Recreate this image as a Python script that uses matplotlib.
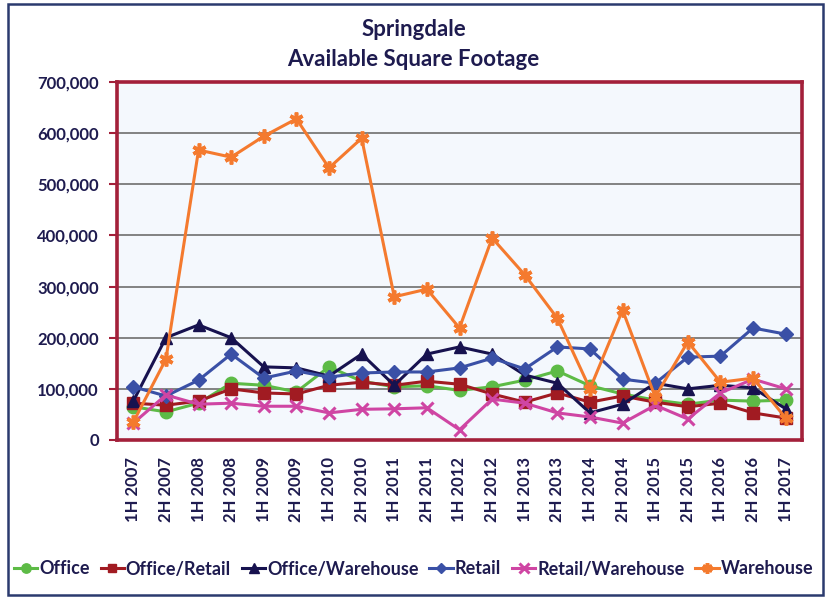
import matplotlib
matplotlib.use("Agg")
import matplotlib.pyplot as plt
from matplotlib.patches import Rectangle
from matplotlib.ticker import FuncFormatter, MultipleLocator

periods = ["1H 2007", "2H 2007", "1H 2008", "2H 2008", "1H 2009", "2H 2009",
           "1H 2010", "2H 2010", "1H 2011", "2H 2011", "1H 2012", "2H 2012",
           "1H 2013", "2H 2013", "1H 2014", "2H 2014", "1H 2015", "2H 2015",
           "1H 2016", "2H 2016", "1H 2017"]

office = [65000, 55000, 72000, 111000, 107000, 94000, 143000, 115000, 104000, 106000,
          97000, 104000, 117000, 135000, 106000, 90000, 78000, 70000, 78000, 76000, 78000]
office_retail = [72000, 68000, 76000, 100000, 92000, 90000, 107000, 113000, 107000, 115000,
                 109000, 90000, 74000, 92000, 74000, 86000, 74000, 65000, 72000, 53000, 43000]
office_warehouse = [76000, 200000, 225000, 200000, 143000, 141000, 125000, 168000, 107000, 168000,
                    182000, 168000, 127000, 111000, 53000, 70000, 111000, 100000, 107000, 102000, 61000]
retail = [104000, 86000, 117000, 168000, 121000, 135000, 123000, 131000, 133000, 133000,
          141000, 160000, 139000, 182000, 178000, 119000, 111000, 162000, 164000, 219000, 207000]
retail_warehouse = [33000, 88000, 70000, 72000, 66000, 66000, 53000, 60000, 61000, 63000,
                    20000, 80000, 72000, 53000, 45000, 33000, 68000, 41000, 92000, 119000, 100000]
warehouse = [35000, 158000, 567000, 553000, 594000, 628000, 532000, 590000, 280000, 295000,
             219000, 395000, 323000, 238000, 100000, 254000, 84000, 192000, 113000, 121000, 43000]

series = [
    ("Office", office, "#5DBB46", "o", 9, 1),
    ("Office/Retail", office_retail, "#A11B22", "s", 8, 1),
    ("Office/Warehouse", office_warehouse, "#17124F", "^", 9, 1),
    ("Retail", retail, "#3A50A6", "D", 7, 1),
    ("Retail/Warehouse", retail_warehouse, "#CF45A3", "x", 9, 2.2),
    ("Warehouse", warehouse, "#F47A2E", (6, 2, 0), 10, 2.6),
]

text_color = "#1E1B4F"
plt.rcParams["font.family"] = ["Lato", "DejaVu Sans"]
plt.rcParams["font.weight"] = "bold"

fig = plt.figure(figsize=(8.27, 5.99), dpi=100)
W, H = 827, 599
ax = fig.add_axes([117 / W, 1 - 440 / H, (802 - 117) / W, (440 - 82) / H])
ax.set_facecolor("#F4F8FD")

x = list(range(len(periods)))
for name, vals, color, marker, ms, mew in series:
    ax.plot(x, vals, color=color, lw=2.2, marker=marker, markersize=ms,
            markeredgewidth=mew, markerfacecolor=color, markeredgecolor=color,
            label=name, zorder=3)

ax.set_xlim(-0.5, len(periods) - 0.5)
ax.set_ylim(0, 700000)
ax.yaxis.set_major_locator(MultipleLocator(100000))
ax.yaxis.set_major_formatter(FuncFormatter(lambda v, p: f"{int(v):,}"))
ax.grid(axis="y", color="#6E6E6E", lw=1.2, zorder=1)
ax.set_axisbelow(True)

ax.set_xticks(x)
ax.set_xticklabels(periods, rotation=90, fontsize=12, fontweight="bold", color=text_color)
ax.tick_params(axis="x", length=0, pad=12)
ax.tick_params(axis="y", length=6, width=1.5, color="#A3203A", pad=7,
               labelsize=12, labelcolor=text_color)
for lbl in ax.get_yticklabels():
    lbl.set_fontweight("bold")

for s in ax.spines.values():
    s.set_color("#A3203A")
    s.set_linewidth(2.6)

fig.text(0.5, 1 - 30 / H, "Springdale", ha="center", va="center",
         fontsize=16, fontweight="bold", color=text_color)
fig.text(0.5, 1 - 60 / H, "Available Square Footage", ha="center", va="center",
         fontsize=16, fontweight="bold", color=text_color)

handles, labels = ax.get_legend_handles_labels()
leg = fig.legend(handles, labels, loc="center", bbox_to_anchor=(0.5, 1 - 569 / H),
                 ncol=6, frameon=False, fontsize=13, handlelength=1.3,
                 handletextpad=0.1, columnspacing=0.6, markerscale=0.75)
for t in leg.get_texts():
    t.set_color(text_color)
    t.set_fontweight("bold")

fig.add_artist(Rectangle((8 / W, 4 / H), (823 - 8) / W, (595 - 4) / H,
                         transform=fig.transFigure, fill=False,
                         edgecolor="#2B3A6E", lw=1.8))

fig.savefig("out.png", dpi=100)
